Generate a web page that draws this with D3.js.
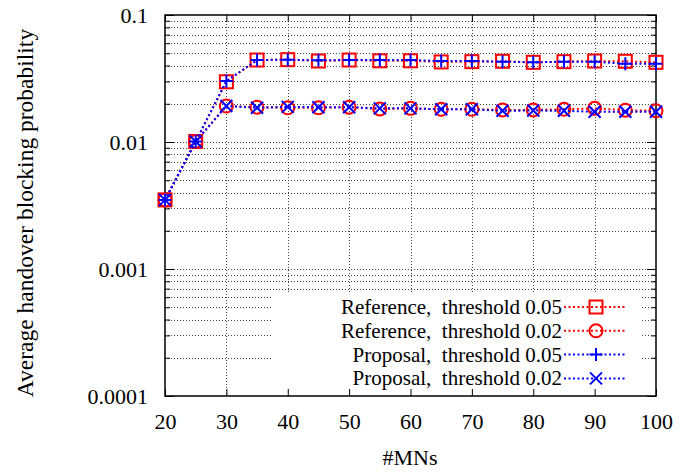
<!DOCTYPE html>
<html>
<head>
<meta charset="UTF-8">
<title>Average handover blocking probability</title>
<script src="https://cdn.jsdelivr.net/npm/d3@7"></script>
<style>
  body { margin: 0; background: #fff; }
  svg { display: block; }
  text { font-family: "Liberation Serif", "Times New Roman", serif; fill: #000; }
  .legend text { font-size: 21px; white-space: pre; }
</style>
</head>
<body>
<svg id="chart" width="693" height="473"></svg>
<script>
// number of MNs on the x axis
const mns = [20, 25, 30, 35, 40, 45, 50, 55, 60, 65, 70, 75, 80, 85, 90, 95, 100];

// blocking probability per series
const refT05  = [0.0035, 0.0101, 0.0298, 0.0442, 0.0445, 0.0434, 0.0442, 0.0436, 0.0436, 0.0427, 0.0429, 0.0432, 0.0424, 0.0429, 0.0434, 0.0432, 0.0424];
const refT02  = [0.0035, 0.0101, 0.0192, 0.0188, 0.0186, 0.0186, 0.0188, 0.0182, 0.0184, 0.0181, 0.0181, 0.0179, 0.0179, 0.0181, 0.0184, 0.0178, 0.0176];
const propT05 = [0.0035, 0.0101, 0.0302, 0.0442, 0.0445, 0.0440, 0.0442, 0.0442, 0.0442, 0.0434, 0.0434, 0.0429, 0.0424, 0.0429, 0.0429, 0.0413, 0.0413];
const propT02 = [0.0035, 0.0101, 0.0192, 0.0186, 0.0189, 0.0188, 0.0188, 0.0184, 0.0184, 0.0181, 0.0181, 0.0176, 0.0177, 0.0176, 0.0173, 0.0173, 0.0173];

const seriesNames = ['Reference,  threshold 0.05', 'Reference,  threshold 0.02',
                     'Proposal,  threshold 0.05', 'Proposal,  threshold 0.02'];
const xTicks = [20, 30, 40, 50, 60, 70, 80, 90, 100];
const yTicks = [0.0001, 0.001, 0.01, 0.1];

const plotL = 165, plotR = 656, plotT = 15, plotB = 396;
const serif = '"Liberation Serif", "Times New Roman", serif';

const x = d3.scaleLinear().domain([20, 100]).range([plotL, plotR]);
const y = d3.scaleLog().domain([0.0001, 0.1]).range([plotB, plotT]);

const svg = d3.select('#chart');

// grid: vertical at major x, horizontal at every log tick
const grid = svg.append('g')
  .attr('stroke', '#444')
  .attr('stroke-width', 1)
  .attr('stroke-dasharray', '1,2')
  .attr('shape-rendering', 'crispEdges');

grid.selectAll('.gx')
  .data(xTicks.slice(1, -1))
  .join('line')
  .attr('x1', d => Math.round(x(d)) + 0.5).attr('x2', d => Math.round(x(d)) + 0.5)
  .attr('y1', plotT).attr('y2', plotB);

grid.selectAll('.gy')
  .data(y.ticks().filter(d => d > 0.00011 && d < 0.099))
  .join('line')
  .attr('x1', plotL).attr('x2', plotR)
  .attr('y1', d => Math.round(y(d)) + 0.5).attr('y2', d => Math.round(y(d)) + 0.5);

// white key box hides the grid behind it
svg.append('rect')
  .attr('x', 273).attr('y', 293)
  .attr('width', 368).attr('height', plotB - 293)
  .attr('fill', '#fff');

// axes (ticks inward, mirrored)
const isMajor = d => yTicks.some(t => Math.abs(Math.log10(t) - Math.log10(d)) < 1e-6);

function styleAxis(g) {
  g.attr('font-family', serif).attr('font-size', 22);
  g.select('.domain').remove();
  g.selectAll('line').attr('stroke', '#000').attr('stroke-width', 1);
}

svg.append('g')
  .attr('transform', `translate(0,${plotB})`)
  .call(d3.axisBottom(x).tickValues(xTicks).tickSize(-7).tickPadding(17).tickFormat(d3.format('d')))
  .call(styleAxis);

svg.append('g')
  .attr('transform', `translate(0,${plotT})`)
  .call(d3.axisTop(x).tickValues(xTicks).tickSize(-7).tickFormat(''))
  .call(styleAxis);

svg.append('g')
  .attr('transform', `translate(${plotL},0)`)
  .call(d3.axisLeft(y).tickValues(y.ticks()).tickSize(0).tickPadding(17)
    .tickFormat(d => isMajor(d) ? String(d) : ''))
  .call(styleAxis)
  .call(g => g.selectAll('.tick line').attr('x2', d => isMajor(d) ? 9 : 5));

svg.append('g')
  .attr('transform', `translate(${plotR},0)`)
  .call(d3.axisRight(y).tickValues(y.ticks()).tickSize(0).tickFormat(''))
  .call(styleAxis)
  .call(g => g.selectAll('.tick line').attr('x2', d => isMajor(d) ? -9 : -5));

// border
svg.append('rect')
  .attr('x', plotL).attr('y', plotT)
  .attr('width', plotR - plotL).attr('height', plotB - plotT)
  .attr('fill', 'none').attr('stroke', '#000').attr('stroke-width', 1.5);

// axis titles
svg.append('text')
  .attr('x', (plotL + plotR) / 2 - 0.5).attr('y', 465)
  .attr('text-anchor', 'middle').attr('font-size', 22)
  .text('#MNs');

svg.append('text')
  .attr('transform', 'translate(33,213) rotate(-90)')
  .attr('text-anchor', 'middle').attr('font-size', 23.5)
  .text('Average handover blocking probability');

// marker shapes
function marker(g, type, color) {
  const s = 6.5;
  if (type === 'square') {
    g.append('rect').attr('x', -s).attr('y', -s).attr('width', 2 * s).attr('height', 2 * s)
      .attr('fill', 'none').attr('stroke', color).attr('stroke-width', 2);
  } else if (type === 'circle') {
    g.append('circle').attr('r', s)
      .attr('fill', 'none').attr('stroke', color).attr('stroke-width', 2);
  } else if (type === 'plus') {
    g.append('path').attr('d', `M${-s},0H${s}M0,${-s}V${s}`)
      .attr('stroke', color).attr('stroke-width', 2);
  } else {
    const c = 6;
    g.append('path').attr('d', `M${-c},${-c}L${c},${c}M${-c},${c}L${c},${-c}`)
      .attr('stroke', color).attr('stroke-width', 2);
  }
}

const series = [
  { name: seriesNames[0], values: refT05,  color: '#ff0000', shape: 'square' },
  { name: seriesNames[1], values: refT02,  color: '#ff0000', shape: 'circle' },
  { name: seriesNames[2], values: propT05, color: '#0000ff', shape: 'plus' },
  { name: seriesNames[3], values: propT02, color: '#0000ff', shape: 'cross' }
];

const line = d3.line().x((d, i) => x(mns[i])).y(d => y(d));

series.forEach(s => {
  svg.append('path')
    .attr('d', line(s.values))
    .attr('fill', 'none')
    .attr('stroke', s.color)
    .attr('stroke-width', 2)
    .attr('stroke-dasharray', '2,2.5');
  s.values.forEach((v, i) => {
    const g = svg.append('g').attr('transform', `translate(${x(mns[i])},${y(v)})`);
    marker(g, s.shape, s.color);
  });
});

// key
const key = svg.append('g').attr('class', 'legend');
series.forEach((s, i) => {
  const ky = 307 + i * 23.8;
  key.append('text')
    .attr('x', 562).attr('y', ky).attr('dy', '0.33em')
    .attr('text-anchor', 'end')
    .text(s.name);
  key.append('line')
    .attr('x1', 564).attr('x2', 627).attr('y1', ky).attr('y2', ky)
    .attr('stroke', s.color).attr('stroke-width', 2).attr('stroke-dasharray', '2,2.5');
  const g = key.append('g').attr('transform', `translate(596,${ky})`);
  marker(g, s.shape, s.color);
});
</script>
</body>
</html>
